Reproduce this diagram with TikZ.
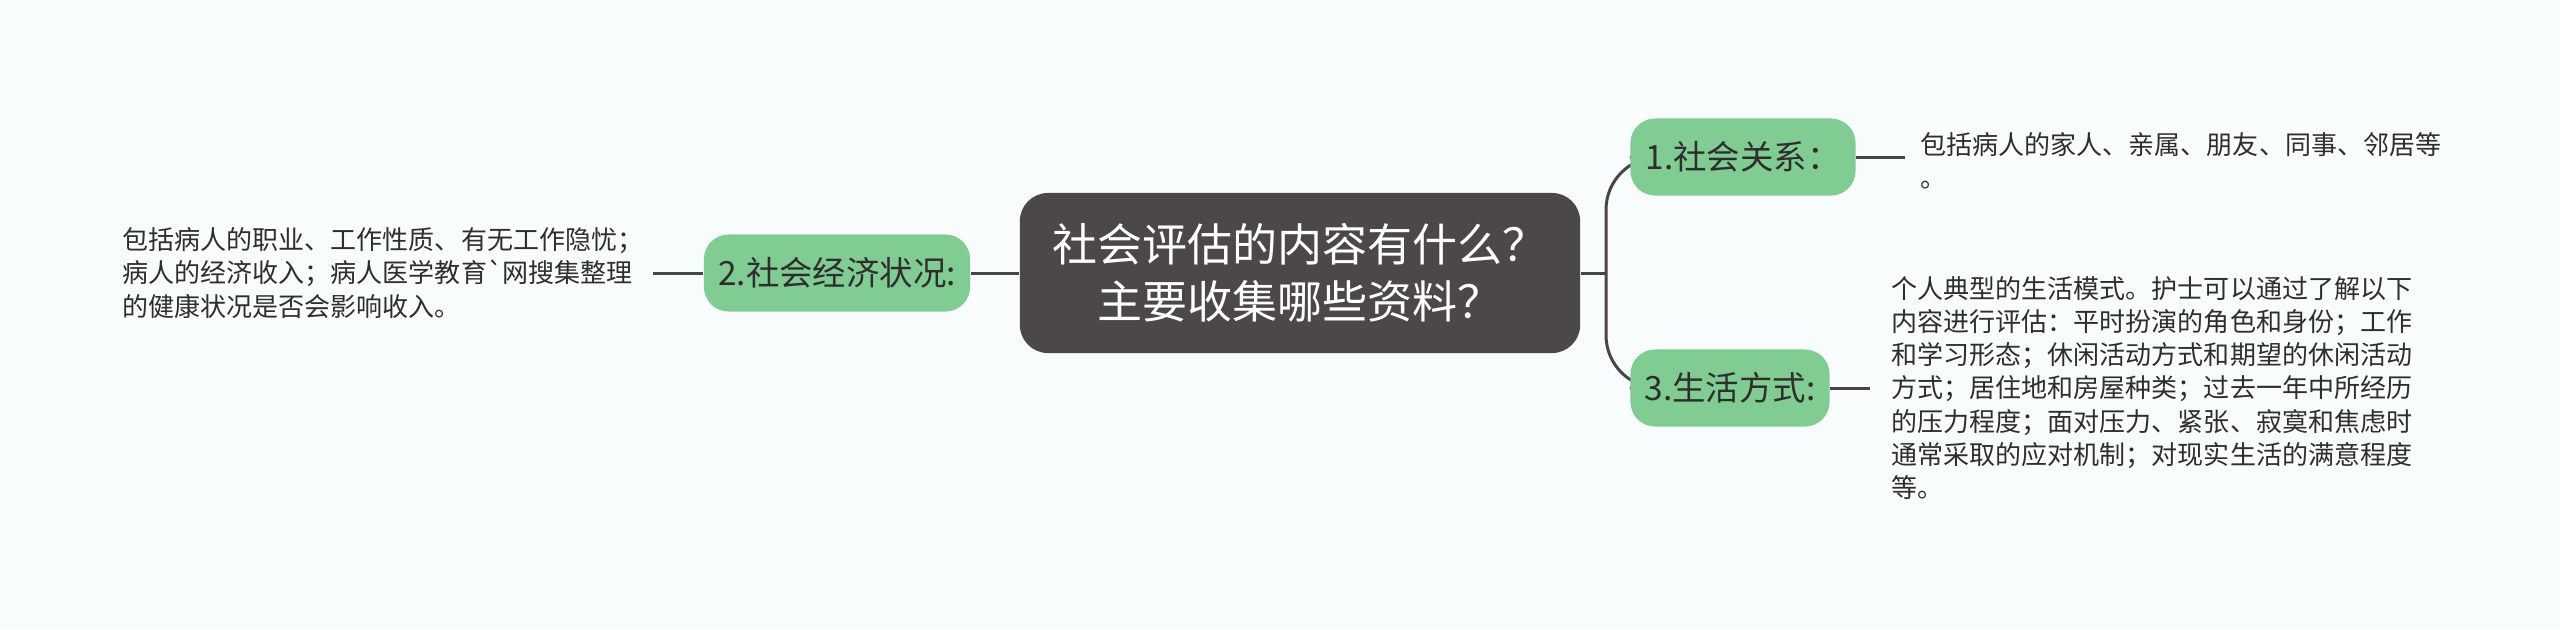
\documentclass[tikz,border=0pt]{standalone}
\usepackage{fontspec}
\newfontfamily\cjk{Noto Sans CJK SC}
\usetikzlibrary{backgrounds}

\definecolor{bgcol}{HTML}{F8FCFD}
\definecolor{rootcol}{HTML}{4D4848}
\definecolor{topiccol}{HTML}{80CC92}
\definecolor{linecol}{HTML}{4A4545}
\definecolor{txtcol}{HTML}{2E2E2E}

\tikzset{
    root/.style={fill=rootcol, rounded corners=8, text=white, align=center,
        minimum width=5.6cm, minimum height=1.6cm,
        font=\cjk\fontsize{12.8}{16.2}\selectfont},
    topic/.style={fill=topiccol, rounded corners=7, text=txtcol,
        minimum height=0.77cm, font=\cjk\fontsize{9.5}{12}\selectfont},
    note/.style={text=txtcol, align=left, inner sep=0pt,
        font=\cjk\fontsize{7.4}{9.4}\selectfont},
    link/.style={draw=linecol, line width=0.85pt},
}

\begin{document}
\begin{tikzpicture}[x=0.01cm, y=-0.01cm]
        \useasboundingbox (0,0) rectangle (2560,629);

        % main topic and branches
        \node[root] (root) at (1300,273) {社会评估的内容有什么？\\主要收集哪些资料？};
        \node[topic, minimum width=2.66cm] (eco) at (837,273) {2.社会经济状况:};
        \node[topic, minimum width=2.25cm] (rel) at (1743,157) {1.社会关系：};
        \node[topic, minimum width=1.99cm] (life) at (1730,388) {3.生活方式:};

        % notes
        \node[note, anchor=west] (ecotxt) at (122,273) {包括病人的职业、工作性质、有无工作隐忧；\\病人的经济收入；病人医学教育\textasciigrave 网搜集整理\\的健康状况是否会影响收入。};
        \node[note, anchor=west] (reltxt) at (1920,161) {包括病人的家人、亲属、朋友、同事、邻居等\\。};
        \node[note, anchor=west] (lifetxt) at (1891,388) {个人典型的生活模式。护士可以通过了解以下\\内容进行评估：平时扮演的角色和身份；工作\\和学习形态；休闲活动方式和期望的休闲活动\\方式；居住地和房屋种类；过去一年中所经历\\的压力程度；面对压力、紧张、寂寞和焦虑时\\通常采取的应对机制；对现实生活的满意程度\\等。};

        \coordinate (fork) at (1606,273);
        \coordinate (ecoend) at (653,273);
        \coordinate (relend) at (1905,157);
        \coordinate (lifeend) at (1870,388);

        \begin{scope}[on background layer]
            \fill[bgcol] (0,0) rectangle (2560,629);
            \draw[link] (root.west) -- (eco.east);
            \draw[link] (eco.west) -- (ecoend);
            \draw[link] (root.east) -- (fork);
            \draw[link, rounded corners=15] (fork) |- (rel.west);
            \draw[link, rounded corners=15] (fork) |- (life.west);
            \draw[link] (rel.east) -- (relend);
            \draw[link] (life.east) -- (lifeend);
        \end{scope}
    \end{tikzpicture}
\end{document}
